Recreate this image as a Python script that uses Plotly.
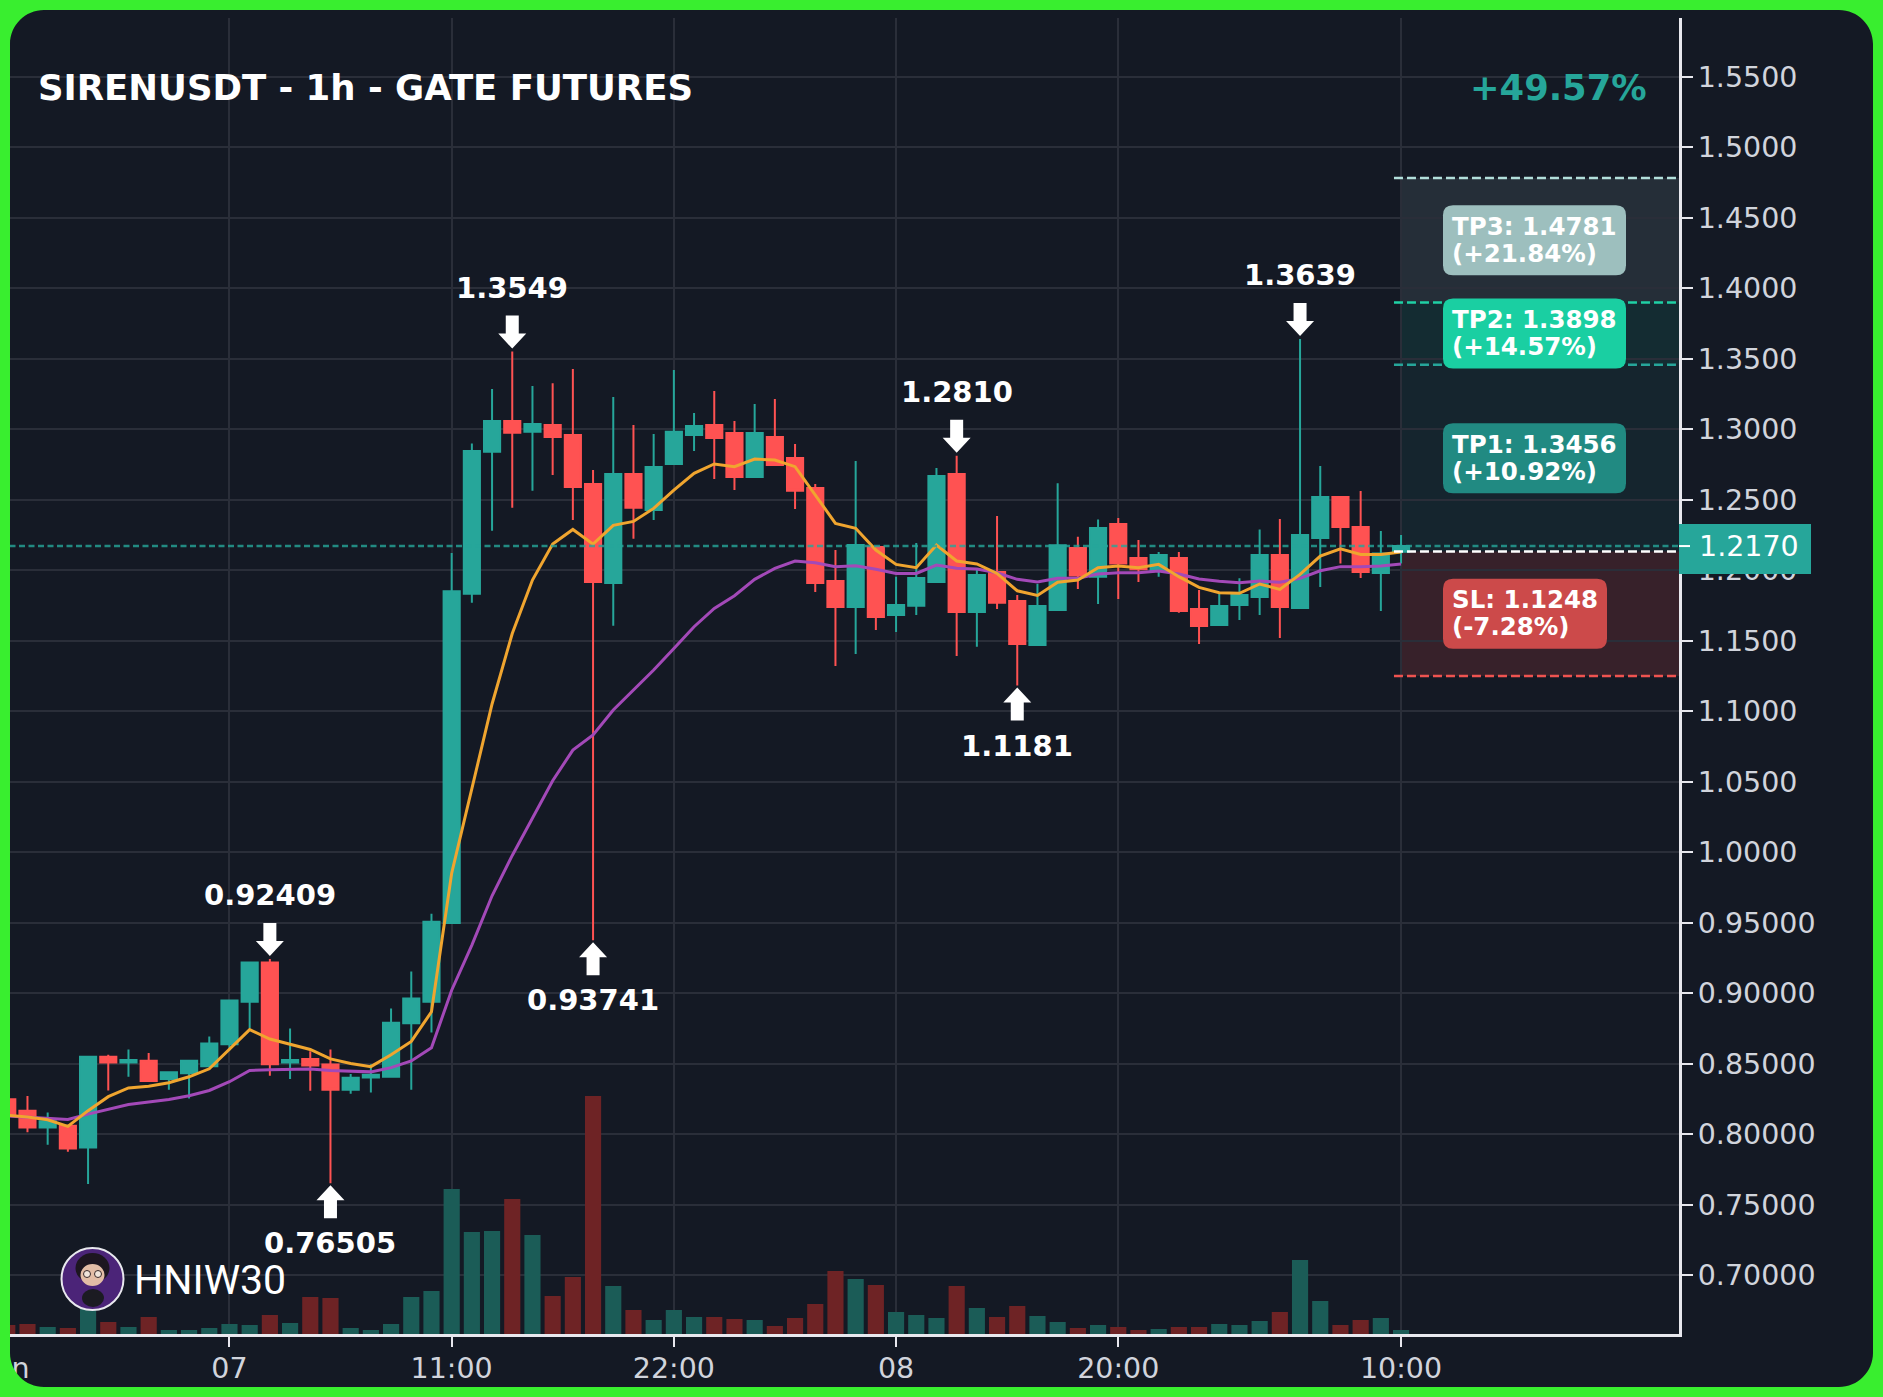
import plotly.graph_objects as go

# ---- hourly candles, indexed from the "07" session label ----
index = list(range(-11, 59))
opens = [.8247, .8166, .8047, .8059, .7905, .8548, .8508, .8520, .8391, .8431, .8481,
         .8637, .8939, .9217, .8508, .8533, .8493, .8314, .8401, .8406, .8786, .8939,
         .9497, 1.1832, 1.2839, 1.3057, 1.2981, 1.3028, 1.2957, 1.2610, 1.1908, 1.2681,
         1.2426, 1.2752, 1.2957, 1.3028, 1.2972, 1.2660, 1.2943, 1.2794, 1.2582, 1.1922,
         1.1738, 1.2163, 1.1681, 1.1747, 1.1915, 1.2681, 1.1702, 1.1986, 1.1780, 1.1468,
         1.1716, 1.2156, 1.1953, 1.2326, 1.2085, 1.2000, 1.2085, 1.1723, 1.1610, 1.1752,
         1.1809, 1.2106, 1.1731, 1.2227, 1.2518, 1.2305, 1.1979, 1.2130]
highs = [.8247, .8270, .8153, .8059, .8548, .8562, .8600, .8575, .8438, .8525, .8691,
         .8947, .9217, .92409, .8748, .8587, .8600, .8426, .8495, .8890, .9153, .9562,
         1.2120, 1.2898, 1.3284, 1.3549, 1.3305, 1.3324, 1.3425, 1.2709, 1.3227, 1.3028,
         1.2965, 1.3418, 1.3113, 1.3269, 1.3057, 1.3177, 1.3213, 1.2894, 1.2610, 1.2142,
         1.2773, 1.2163, 1.1953, 1.2191, 1.2723, 1.2810, 1.2000, 1.2383, 1.1823, 1.1901,
         1.2615, 1.2236, 1.2359, 1.2369, 1.2213, 1.2128, 1.2128, 1.1858, 1.1835, 1.1941,
         1.2288, 1.2362, 1.3639, 1.2738, 1.2518, 1.2560, 1.2277, 1.2248]
lows = [.8110, .8012, .7925, .7875, .7645, .8309, .8406, .8371, .8314, .8252, .8481,
        .8595, .8748, .8414, .8391, .8307, .76505, .8285, .8295, .8401, .8314, .8721,
        .9497, 1.1768, 1.2279, 1.2442, 1.2563, 1.2674, 1.2355, .93741, 1.1605, 1.2222,
        1.2355, 1.2752, 1.2844, 1.2645, 1.2567, 1.2660, 1.2745, 1.2433, 1.1844, 1.1319,
        1.1404, 1.1574, 1.1560, 1.1681, 1.1915, 1.1390, 1.1456, 1.1723, 1.1181, 1.1468,
        1.1712, 1.1865, 1.1759, 1.1794, 1.1915, 1.1953, 1.1697, 1.1475, 1.1605, 1.1645,
        1.1681, 1.1518, 1.1731, 1.1879, 1.2047, 1.1943, 1.1709, 1.2047]
closes = [.8128, .8047, .8091, .7898, .8548, .8508, .8525, .8376, .8438, .8520, .8642,
          .8947, .9217, .8495, .8525, .8486, .8314, .8399, .8421, .8790, .8962, .9505,
          1.1850, 1.2844, 1.3057, 1.2974, 1.3035, 1.2943, 1.2589, 1.1915, 1.2681, 1.2442,
          1.2730, 1.2981, 1.3021, 1.2936, 1.2660, 1.2972, 1.2745, 1.2563, 1.1908, 1.1738,
          1.2177, 1.1667, 1.1752, 1.1943, 1.2667, 1.1702, 1.1965, 1.1768, 1.1475, 1.1745,
          1.2175, 1.1962, 1.2298, 1.2047, 1.2005, 1.2106, 1.1709, 1.1603, 1.1745, 1.1823,
          1.2106, 1.1738, 1.2248, 1.2518, 1.2305, 1.1986, 1.2118, 1.2170]
volumes = [9, 10, 7, 6, 25, 12, 7, 17, 4, 4, 6, 10, 9, 19, 11, 37, 36, 6, 4, 10, 37, 43,
           145, 102, 103, 135, 99, 38, 57, 238, 48, 24, 14, 24, 17, 17, 15, 14, 8, 16, 30,
           63, 55, 49, 22, 19, 16, 48, 26, 17, 28, 18, 12, 6, 9, 7, 4, 5, 7, 7, 10, 9, 13,
           22, 74, 33, 9, 14, 16, 4]
ma_fast = [.8133, .8121, .8101, .8054, .8166, .8265, .8327, .8339, .8364, .8406, .8463,
           .8600, .8741, .8674, .8637, .8600, .8533, .8500, .8478, .8562, .8657, .8867,
           .9850, 1.0450, 1.1050, 1.1550, 1.1929, 1.2184, 1.2288, 1.2184, 1.2317, 1.2345,
           1.2437, 1.2567, 1.2686, 1.2752, 1.2733, 1.2787, 1.2780, 1.2733, 1.2532, 1.2331,
           1.2296, 1.2142, 1.2040, 1.2017, 1.2177, 1.2064, 1.2043, 1.1976, 1.1853, 1.1820,
           1.1913, 1.1929, 1.2017, 1.2028, 1.2017, 1.2040, 1.1953, 1.1877, 1.1839, 1.1835,
           1.1901, 1.1863, 1.1969, 1.2099, 1.2151, 1.2111, 1.2111, 1.2128]
ma_slow = [.8128, .8121, .8116, .8104, .8141, .8173, .8210, .8228, .8245, .8272, .8309,
           .8371, .8451, .8456, .8461, .8461, .8451, .8446, .8441, .8471, .8518, .8612,
           .9020, .9340, .9690, .9976, 1.0240, 1.0506, 1.0723, 1.0830, 1.1007, 1.1149,
           1.1291, 1.1444, 1.1598, 1.1728, 1.1818, 1.1934, 1.2012, 1.2064, 1.2052, 1.2024,
           1.2031, 1.2005, 1.1976, 1.1976, 1.2035, 1.2012, 1.2007, 1.1981, 1.1934, 1.1915,
           1.1941, 1.1941, 1.1972, 1.1981, 1.1981, 1.1993, 1.1972, 1.1936, 1.1920, 1.1910,
           1.1922, 1.1913, 1.1941, 1.1995, 1.2024, 1.2024, 1.2028, 1.2043]

price_ticks = [.70, .75, .80, .85, .90, .95, 1.0, 1.05, 1.10, 1.15, 1.20, 1.25, 1.30,
               1.35, 1.40, 1.45, 1.50, 1.55]
price_labels = ["0.70000", "0.75000", "0.80000", "0.85000", "0.90000", "0.95000",
                "1.0000", "1.0500", "1.1000", "1.1500", "1.2000", "1.2500", "1.3000",
                "1.3500", "1.4000", "1.4500", "1.5000", "1.5500"]
time_ticks = [-11, 0, 11, 22, 33, 44, 58]
time_labels = ["Jun", "07", "11:00", "22:00", "08", "20:00", "10:00"]

last_price = 1.2170
entry = 1.2131
targets = [("TP1", 1.3456, "+10.92%"), ("TP2", 1.3898, "+14.57%"), ("TP3", 1.4781, "+21.84%")]
stop = ("SL", 1.1248, "-7.28%")
extremes = [(2, "high", "0.92409"), (14, "high", "1.3549"), (36, "high", "1.2810"),
            (53, "high", "1.3639"), (5, "low", "0.76505"), (18, "low", "0.93741"),
            (39, "low", "1.1181")]

# ---- canvas and palette ----
WIDTH, HEIGHT = 1883, 1397
AXIS_X, AXIS_Y, TOP = 1679, 1334, 18
BG = "#141924"
TEAL, RED = "#26a69a", "#ff5252"
VOL_TEAL, VOL_RED = "#1b5c57", "#6e2325"
GRID = "#2a2e39"
TICK_TEXT = "#d1d4dc"
FONT = "DejaVu Sans"


def px_x(x):
    return x / AXIS_X


def px_y(y):
    return (AXIS_Y - y) / (AXIS_Y - TOP)


def rounded_rect(x0, y0, x1, y1, r):
    """SVG path of a rounded rectangle in paper fractions, given canvas pixels."""
    k = r * 0.45
    pts = [
        ("M", (x0 + r, y0)), ("L", (x1 - r, y0)),
        ("C", (x1 - k, y0), (x1, y0 + k), (x1, y0 + r)), ("L", (x1, y1 - r)),
        ("C", (x1, y1 - k), (x1 - k, y1), (x1 - r, y1)), ("L", (x0 + r, y1)),
        ("C", (x0 + k, y1), (x0, y1 - k), (x0, y1 - r)), ("L", (x0, y0 + r)),
        ("C", (x0, y0 + k), (x0 + k, y0), (x0 + r, y0)),
    ]
    out = []
    for p in pts:
        coords = " ".join(f"{px_x(a):.6f},{px_y(b):.6f}" for a, b in p[1:])
        out.append(p[0] + coords)
    return " ".join(out) + " Z"


fig = go.Figure()

fig.add_trace(go.Bar(
    x=index, y=volumes, width=0.8, yaxis="y",
    marker=dict(color=[VOL_TEAL if c >= o else VOL_RED for o, c in zip(opens, closes)], line_width=0),
    hoverinfo="skip",
))
fig.add_trace(go.Candlestick(
    x=index, open=opens, high=highs, low=lows, close=closes, yaxis="y2",
    whiskerwidth=0,
    increasing=dict(line=dict(color=TEAL, width=2), fillcolor=TEAL),
    decreasing=dict(line=dict(color=RED, width=2), fillcolor=RED),
    hoverinfo="skip",
))
fig.add_trace(go.Scatter(x=index, y=ma_slow, yaxis="y2", mode="lines",
                         line=dict(color="#a349b8", width=3), hoverinfo="skip"))
fig.add_trace(go.Scatter(x=index, y=ma_fast, yaxis="y2", mode="lines",
                         line=dict(color="#f0a52f", width=3), hoverinfo="skip"))

shapes = []
annotations = []

# Trade zones between the entry and each level, right of the last candle
zone_x0, line_x0, zone_x1 = 58, 57.65, 71.76
zones = [(entry, targets[0][1], "rgba(38,166,154,0.09)"),
         (targets[0][1], targets[1][1], "rgba(26,188,156,0.12)"),
         (targets[1][1], targets[2][1], "rgba(178,223,219,0.11)"),
         (stop[1], entry, "rgba(255,82,82,0.15)")]
for lo, hi, col in zones:
    shapes.append(dict(type="rect", xref="x", yref="y2", x0=zone_x0, x1=zone_x1, y0=lo, y1=hi,
                       fillcolor=col, line_width=0, layer="below"))
level_lines = [(targets[0][1], "#26a69a"), (targets[1][1], "#1fd1a5"), (targets[2][1], "#b2dfdb"),
               (stop[1], "#ef5350"), (entry, "#ffffff")]
for lvl, col in level_lines:
    shapes.append(dict(type="line", xref="x", yref="y2", x0=line_x0, x1=zone_x1, y0=lvl, y1=lvl,
                       line=dict(color=col, width=2.5, dash="9px,4px"), layer="above"))

# Current price line and its tag on the axis
shapes.append(dict(type="line", xref="paper", yref="y2", x0=0, x1=1, y0=last_price, y1=last_price,
                   line=dict(color="rgba(38,166,154,0.8)", width=2.5, dash="6px,3.5px"), layer="above"))
shapes.append(dict(type="rect", xref="paper", yref="paper", x0=px_x(AXIS_X), x1=px_x(1811),
                   y0=px_y(574), y1=px_y(524), fillcolor=TEAL, line_width=0, layer="above"))
shapes.append(dict(type="line", xref="paper", yref="y2", x0=1, x1=px_x(1690), y0=last_price, y1=last_price,
                   line=dict(color="#ffffff", width=2), layer="above"))
annotations.append(dict(xref="paper", yref="y2", x=px_x(1697), y=last_price, text=f"{last_price:.4f}",
                        xanchor="left", yanchor="middle", showarrow=False,
                        font=dict(family=FONT, size=28.5, color="#ffffff")))

# Rounded target and stop labels, centred on the band each one describes
boxes = [(targets[0], (entry + targets[0][1]) / 2, "#218a82", 183),
         (targets[1], (targets[0][1] + targets[1][1]) / 2, "#1acfa2", 183),
         (targets[2], (targets[1][1] + targets[2][1]) / 2, "#9dbfbe", 183),
         (stop, (stop[1] + entry) / 2, "#cc4a4a", 164)]
BOX_X, BOX_H, R = 1443, 70, 10
for (name, lvl, pct), mid, col, w in boxes:
    h = BOX_H / 2
    path = (f"M{R},{h} L{w-R},{h} Q{w},{h} {w},{h-R} L{w},{-h+R} Q{w},{-h} {w-R},{-h} "
            f"L{R},{-h} Q0,{-h} 0,{-h+R} L0,{h-R} Q0,{h} {R},{h} Z")
    shapes.append(dict(type="path", xref="paper", yref="y2", xsizemode="pixel", ysizemode="pixel",
                       xanchor=px_x(BOX_X), yanchor=mid, path=path, fillcolor=col, line_width=0,
                       layer="above"))
    for text, shift in ((f"{name}: {lvl:.4f}", 14), (f"({pct})", -13)):
        annotations.append(dict(xref="paper", yref="y2", x=px_x(BOX_X + 7), y=mid, yshift=shift,
                                text=f"<b>{text}</b>", xanchor="left", yanchor="middle", showarrow=False,
                                font=dict(family=FONT, size=24.5, color="#ffffff")))

# White block arrows and price labels on the session extremes
for i, kind, label in extremes:
    pos = index.index(i)
    if kind == "high":
        value, s, tip, text_shift = highs[pos], 1, 3, 64
    else:
        value, s, tip, text_shift = lows[pos], -1, 2, -60
    a, b, c = s * tip, s * (tip + 15), s * (tip + 33)
    path = f"M0,{a} L-14,{b} L-6.5,{b} L-6.5,{c} L6.5,{c} L6.5,{b} L14,{b} Z"
    shapes.append(dict(type="path", xref="x", yref="y2", xsizemode="pixel", ysizemode="pixel",
                       xanchor=i, yanchor=value, path=path, fillcolor="#ffffff", line_width=0,
                       layer="above"))
    annotations.append(dict(xref="x", yref="y2", x=i, y=value, yshift=text_shift, text=f"<b>{label}</b>",
                            showarrow=False, xanchor="center", yanchor="middle",
                            font=dict(family=FONT, size=29, color="#ffffff")))

# Header texts and watermark
annotations.append(dict(xref="paper", yref="paper", x=px_x(36), y=px_y(87),
                        text="<b>SIRENUSDT - 1h - GATE FUTURES</b>", showarrow=False,
                        xanchor="left", yanchor="middle", font=dict(family=FONT, size=35.5, color="#ffffff")))
annotations.append(dict(xref="paper", yref="paper", x=px_x(1649), y=px_y(87), text="<b>+49.57%</b>",
                        showarrow=False, xanchor="right", yanchor="middle",
                        font=dict(family=FONT, size=35.3, color=TEAL)))
annotations.append(dict(xref="paper", yref="paper", x=px_x(132), y=px_y(1280), text="HNIW30",
                        showarrow=False, xanchor="left", yanchor="middle",
                        font=dict(family="Roboto", size=41, color="#ffffff")))


def disc(cx, cy, rx, ry, fill, line=None, width=0):
    return dict(type="circle", xref="paper", yref="paper", x0=px_x(cx - rx), x1=px_x(cx + rx),
                y0=px_y(cy + ry), y1=px_y(cy - ry), fillcolor=fill,
                line=dict(color=line or fill, width=width), layer="above")


# Small round avatar beside the watermark
shapes += [
    disc(92.5, 1279, 31, 31, "#4b2478", "#e8e8ee", 2),
    disc(92.5, 1268, 17, 15, "#1d1620"),
    disc(92.5, 1275, 12, 11, "#e3bda6"),
    disc(87, 1274, 3.5, 3.5, "#f0e4da", "#3a2a2a", 1),
    disc(98, 1274, 3.5, 3.5, "#f0e4da", "#3a2a2a", 1),
    disc(93, 1298, 11, 9, "#1b1b22"),
]

# Green outer frame with rounded inner corners
frame_outer = (f"M{px_x(0):.6f},{px_y(0):.6f} L{px_x(WIDTH):.6f},{px_y(0):.6f} "
               f"L{px_x(WIDTH):.6f},{px_y(HEIGHT):.6f} L{px_x(0):.6f},{px_y(HEIGHT):.6f} Z")
shapes.append(dict(type="path", xref="paper", yref="paper",
                   path=frame_outer + " " + rounded_rect(10, 10, 1873, 1387, 34),
                   fillcolor="#39ee2f", fillrule="evenodd", line_width=0, layer="above"))

fig.update_layout(
    width=WIDTH, height=HEIGHT,
    margin=dict(l=0, r=WIDTH - AXIS_X, t=TOP, b=HEIGHT - AXIS_Y, pad=0, autoexpand=False),
    paper_bgcolor=BG, plot_bgcolor=BG,
    showlegend=False,
    boxmode="group", boxgap=0.2, boxgroupgap=0,
    shapes=shapes, annotations=annotations,
    xaxis=dict(range=[-11.36, 71.76], rangeslider=dict(visible=False), tickvals=time_ticks,
               ticktext=time_labels, showgrid=True, gridcolor=GRID, gridwidth=2, zeroline=False,
               showline=True, linecolor="#e8e8ee", linewidth=3, ticks="outside", ticklen=10,
               tickwidth=2, tickcolor="#e8e8ee", ticklabeloverflow="allow", automargin=False,
               ticklabelstandoff=-3, tickfont=dict(family=FONT, size=28.5, color=TICK_TEXT)),
    yaxis=dict(range=[0, AXIS_Y - TOP], visible=False, showgrid=False, fixedrange=True, automargin=False),
    yaxis2=dict(overlaying="y", side="right", anchor="x", range=[0.6582, 1.5915], tickvals=price_ticks,
                ticktext=price_labels, showgrid=True, gridcolor=GRID, gridwidth=2, zeroline=False,
                showline=True, linecolor="#e8e8ee", linewidth=3, ticks="outside", ticklen=11,
                tickwidth=2, tickcolor="#e8e8ee", automargin=False, ticklabelstandoff=-1,
                tickfont=dict(family=FONT, size=28.5, color=TICK_TEXT)),
)

fig.write_html("out.html", config=dict(displayModeBar=False))
